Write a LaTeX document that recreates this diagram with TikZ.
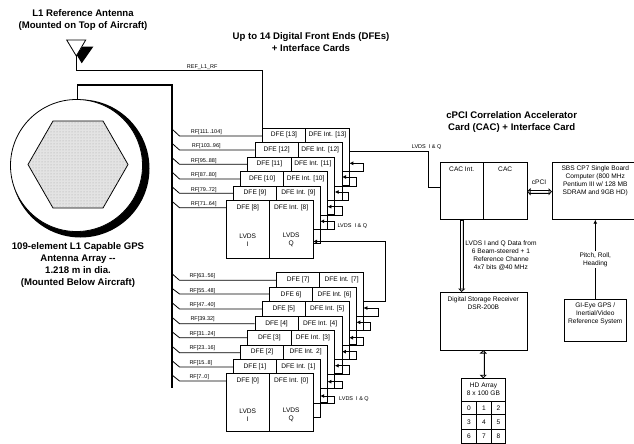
\documentclass[tikz,border=0pt]{standalone}
\usepackage{fontspec}
\setmainfont{Liberation Sans}
\usetikzlibrary{arrows.meta,patterns}
\tikzset{
  x=1pt,y=-1pt,
  lbl/.style={inner sep=0pt,font=\fontsize{6.6}{8}\selectfont,align=center},
  rflbl/.style={inner sep=0pt,anchor=west,font=\fontsize{5.5}{7}\selectfont},
  ttl/.style={inner sep=0pt,font=\bfseries\fontsize{9.6}{12.2}\selectfont,align=center},
  wire/.style={draw=black,line width=0.8pt},
  bus/.style={draw=black,line width=1.3pt},
  cell/.style={draw=black,fill=white,line width=0.8pt},
  arr/.style={wire,-{Latex[length=4pt,width=4pt]}},
  hollowtip/.tip={Triangle[open,fill=white,length=3.5pt,width=7pt,line width=0.8pt]},
  pipeout/.style={draw=black,line width=3.6pt,shorten >=3pt,shorten <=3pt},
  pipein/.style={draw=white,line width=2pt,shorten >=2.5pt,shorten <=2.5pt},
  pipetips/.style={draw=black,line width=0.01pt,{hollowtip}-{hollowtip}},
  pipeendtip/.style={draw=black,line width=0.01pt,-{hollowtip}},
  pipeoutend/.style={draw=black,line width=3.6pt,shorten >=3pt},
  pipeinend/.style={draw=white,line width=2pt,shorten >=2.5pt,shorten <=0.8pt},
}
\newcommand{\dfebox}[5]{%
  \path[cell] (#2,#3) rectangle ++(43.4,57.6);
  \path[cell] (#2+43.4,#3) rectangle ++(43.6,57.6);
  \node[lbl] (dl#1) at (#2+21.7,#3+7.2) {#4};
  \node[lbl] (dr#1) at (#2+65.2,#3+7.2) {#5};
}
\newcommand{\rftap}[6]{%
  \coordinate (ta) at (172,#1);
  \coordinate (tb) at (179.5,#2);
  \coordinate (tc) at (#3,#2);
  \draw[wire] (ta) -- (tb) -- (tc);
  \node[rflbl] at (#5,#6) {#4};
}
\newcommand{\dfeloop}[5]{%
  \coordinate (la) at (#2,#1);
  \coordinate (lb) at (#3,#1);
  \coordinate (lc) at (#3,#4);
  \coordinate (ld) at (#5,#4);
  \draw[arr] (la) -- (lb) -- (lc) -- (ld);
}
\begin{document}
\begin{tikzpicture}
\useasboundingbox (0,0) rectangle (634,444);
\clip (0,0) rectangle (634,444);

% Titles
\node[ttl] (t1) at (83,20) {L1 Reference Antenna\\(Mounted on Top of Aircraft)};
\node[ttl] (t2) at (311,42) {Up to 14 Digital Front Ends (DFEs)\\+ Interface Cards};
\node[ttl] (t3) at (511.7,121.7) {cPCI Correlation Accelerator\\Card (CAC) + Interface Card};
\node[ttl] (t4) at (78,265) {109-element L1 Capable GPS\\Antenna Array -{}-\\1.218 m in dia.\\(Mounted Below Aircraft)};

% Antenna
\fill[black] (82.3,46.7) -- (93.3,46.7) -- (81.7,63.3) -- (76.7,55) -- cycle;
\path[cell] (66.7,40) -- (85.7,40) -- (76.3,56) -- cycle;
\coordinate (antfoot) at (76.3,56);
\coordinate (refa) at (76.3,70.3);
\coordinate (refb) at (262.3,70.3);
\coordinate (refc) at (262.3,128);
\draw[wire] (antfoot) -- (refa) -- (refb) -- (refc);
\node[rflbl] (reflbl) at (186.7,66.8) {REF\_L1\_RF};

% Array
\fill[black] (80.5,168.5) circle[radius=69];
\path[cell] (76.5,165.5) circle[radius=66];
\path[draw=black,fill=gray!22,line width=0.8pt] (28,164.5) -- (53,121) -- (103,121) -- (128,164.5) -- (103,208) -- (53,208) -- cycle;
\path[pattern=dots,pattern color=gray!70] (28,164.5) -- (53,121) -- (103,121) -- (128,164.5) -- (103,208) -- (53,208) -- cycle;

% Bus
\coordinate (busa) at (77.7,99.2);
\coordinate (busb) at (77.7,85);
\coordinate (busc) at (172,85);
\coordinate (busd) at (172,388);
\draw[bus] (busa) -- (busb) -- (busc) -- (busd);

% RF taps
\rftap{129}{136}{262.3}{RF[111..104]}{190.7}{131.7}
\rftap{143.3}{150}{254.7}{RF[103..96]}{191.7}{146}
\rftap{157.7}{164.3}{247.7}{RF[95..88]}{190.7}{161}
\rftap{172}{179}{240.3}{RF[87..80]}{190.7}{175}
\rftap{186.7}{193.3}{233.3}{RF[79..72]}{190.7}{190}
\rftap{201.3}{207.7}{226}{RF[71..64]}{190.7}{204}
\rftap{273.7}{280.3}{276.7}{RF[63..56]}{189.3}{276}
\rftap{288.3}{294}{269.3}{RF[55..48]}{189.3}{291}
\rftap{302.7}{309}{262}{RF[47..40]}{189.3}{305}
\rftap{317.3}{323.7}{254.7}{RF[39.32]}{190.3}{319}
\rftap{331.7}{337.7}{247.7}{RF[31..24]}{189.3}{334.3}
\rftap{346.3}{352.7}{240.3}{RF[23..16]}{189.3}{348}
\rftap{360.7}{367}{233.3}{RF[15..8]}{189.3}{363}
\rftap{375}{381}{226}{RF[7..0]}{189.3}{377.3}

% DFE stacks (back to front)
\dfebox{13}{262.3}{128}{DFE [13]}{DFE Int. [13]}
\dfebox{12}{255}{142.5}{DFE [12]}{DFE Int. [12]}
\dfebox{11}{247.7}{157}{DFE [11]}{DFE Int. [11]}
\dfebox{10}{240.4}{171.6}{DFE [10]}{DFE Int. [10]}
\dfebox{9}{233.2}{186}{DFE [9]}{DFE Int. [9]}
\dfebox{8}{226}{200.4}{DFE [8]}{DFE Int. [8]}
\node[lbl] (li8) at (247.7,240) {LVDS\\I};
\node[lbl] (lq8) at (291.2,240) {LVDS\\Q};

\dfebox{7}{276.4}{272.7}{DFE [7]}{DFE Int. [7]}
\dfebox{6}{269.3}{287.1}{DFE 6]}{DFE Int. [6]}
\dfebox{5}{262}{301.6}{DFE [5]}{DFE Int. [5]}
\dfebox{4}{254.9}{316.1}{DFE [4]}{DFE Int. [4]}
\dfebox{3}{247.7}{330.6}{DFE [3]}{DFE Int. [3]}
\dfebox{2}{240.4}{345}{DFE [2]}{DFE Int. 2]}
\dfebox{1}{233.2}{359.3}{DFE [1]}{DFE Int. [1]}
\dfebox{0}{226}{373.7}{DFE [0]}{DFE Int. [0]}
\node[lbl] (li0) at (247.7,415.2) {LVDS\\I};
\node[lbl] (lq0) at (291.2,415.2) {LVDS\\Q};

% Daisy chain loops
\dfeloop{171.7}{342}{363}{163.3}{349.3}
\dfeloop{186}{334.7}{356}{177}{342}
\dfeloop{200.7}{327.4}{348.7}{192}{334.7}
\dfeloop{215.3}{320.2}{342}{206.7}{327.4}
\dfeloop{229.7}{313}{334.3}{221.3}{320.2}

\dfeloop{316.3}{356.3}{378}{308}{363.4}
\dfeloop{330.3}{349}{370.3}{322.3}{356.3}
\dfeloop{345}{341.9}{363.3}{337.7}{349}
\dfeloop{359.3}{334.7}{356.3}{351.7}{341.9}
\dfeloop{374}{327.4}{349}{365.7}{334.7}
\dfeloop{388.3}{320.2}{342}{381.7}{327.4}
\dfeloop{403}{313}{334.3}{396}{320.2}

\node[rflbl] (lv1) at (337.3,225.7) {LVDS\ \ I \& Q};
\node[rflbl] (lv2) at (339,399) {LVDS\ \ I \& Q};

% Bank link
\coordinate (ba) at (363.4,301.7);
\coordinate (bb) at (385,301.7);
\coordinate (bc) at (385,241.5);
\coordinate (bd) at (313,241.5);
\draw[arr] (ba) -- (bb) -- (bc) -- (bd);

% To CAC
\coordinate (ca) at (349.3,151.3);
\coordinate (cb) at (428.3,151.3);
\coordinate (cc) at (428.3,187);
\coordinate (cd) at (440,187);
\draw[wire] (ca) -- (cb) -- (cc) -- (cd);
\node[rflbl] (lv3) at (411.7,146.7) {LVDS\ \ I \& Q};

% CAC
\path[cell] (440,162.3) rectangle (483.4,219.7);
\path[cell] (483.4,162.3) rectangle (527,219.7);
\node[lbl] (cacint) at (461.7,169.7) {CAC Int.};
\node[lbl] (cac) at (505.2,169.7) {CAC};

% SBS
\path[cell] (552,162.3) rectangle (640,219.7);
\node[lbl] (sbs) at (595.3,181.2) {SBS CP7 Single Board\\Computer (800 MHz\\Pentium III w/ 128 MB\\SDRAM and 9GB HD)};
\coordinate (cpa) at (527,191.7);
\coordinate (cpb) at (552,191.7);
\draw[pipeout] (cpa) -- (cpb);
\draw[pipein] (cpa) -- (cpb);
\draw[pipetips] (cpa) -- (cpb);
\node[lbl] (cpci) at (539,182.7) {cPCI};

% DSR
\path[cell] (440,292) rectangle (527.3,350);
\node[lbl] (dsr) at (483.3,302.7) {Digital Storage Receiver\\DSR-200B};
\coordinate (da) at (461.7,219.7);
\coordinate (db) at (461.7,292);
\draw[pipeoutend] (da) -- (db);
\draw[pipeinend] (da) -- (db);
\draw[pipeendtip] (da) -- (db);
\node[lbl,anchor=north] (dsrlbl) at (501,241) {LVDS I and Q Data from\\6 Beam-steered + 1\\Reference Channe\\4x7 bits @40 MHz};

% GI-Eye
\path[cell] (564,299.3) rectangle (626.7,341.3);
\node[lbl] (gi) at (595.3,314.2) {GI-Eye GPS /\\Inertial/Video\\Reference System};
\coordinate (ga) at (595.3,299.3);
\coordinate (gb) at (595.3,219.7);
\draw[arr] (ga) -- (gb);
\node[lbl,fill=white,inner ysep=1.5pt] (pitch) at (595.3,259.7) {Pitch, Roll,\\Heading};

% HD array
\path[cell] (461.7,378.3) rectangle (505.3,450);
\draw[wire] (461.7,401) -- (505.3,401) (461.7,414.7) -- (505.3,414.7) (461.7,429) -- (505.3,429) (461.7,443.5) -- (505.3,443.5);
\draw[wire] (476.7,401) -- (476.7,443.5) (491.3,401) -- (491.3,443.5);
\node[lbl] (hd) at (483.5,389.7) {HD Array\\8 x 100 GB};
\foreach \n/\cx/\cy in {0/469/408,1/484/408,2/498.5/408,3/469/422,4/484/422,5/498.5/422,6/469/436,7/484/436,8/498.5/436}
  \node[lbl] (hd\n) at (\cx,\cy) {\n};
\coordinate (ha) at (483.3,350);
\coordinate (hb) at (483.3,378.3);
\draw[pipeout] (ha) -- (hb);
\draw[pipein] (ha) -- (hb);
\draw[pipetips] (ha) -- (hb);
\end{tikzpicture}
\end{document}
